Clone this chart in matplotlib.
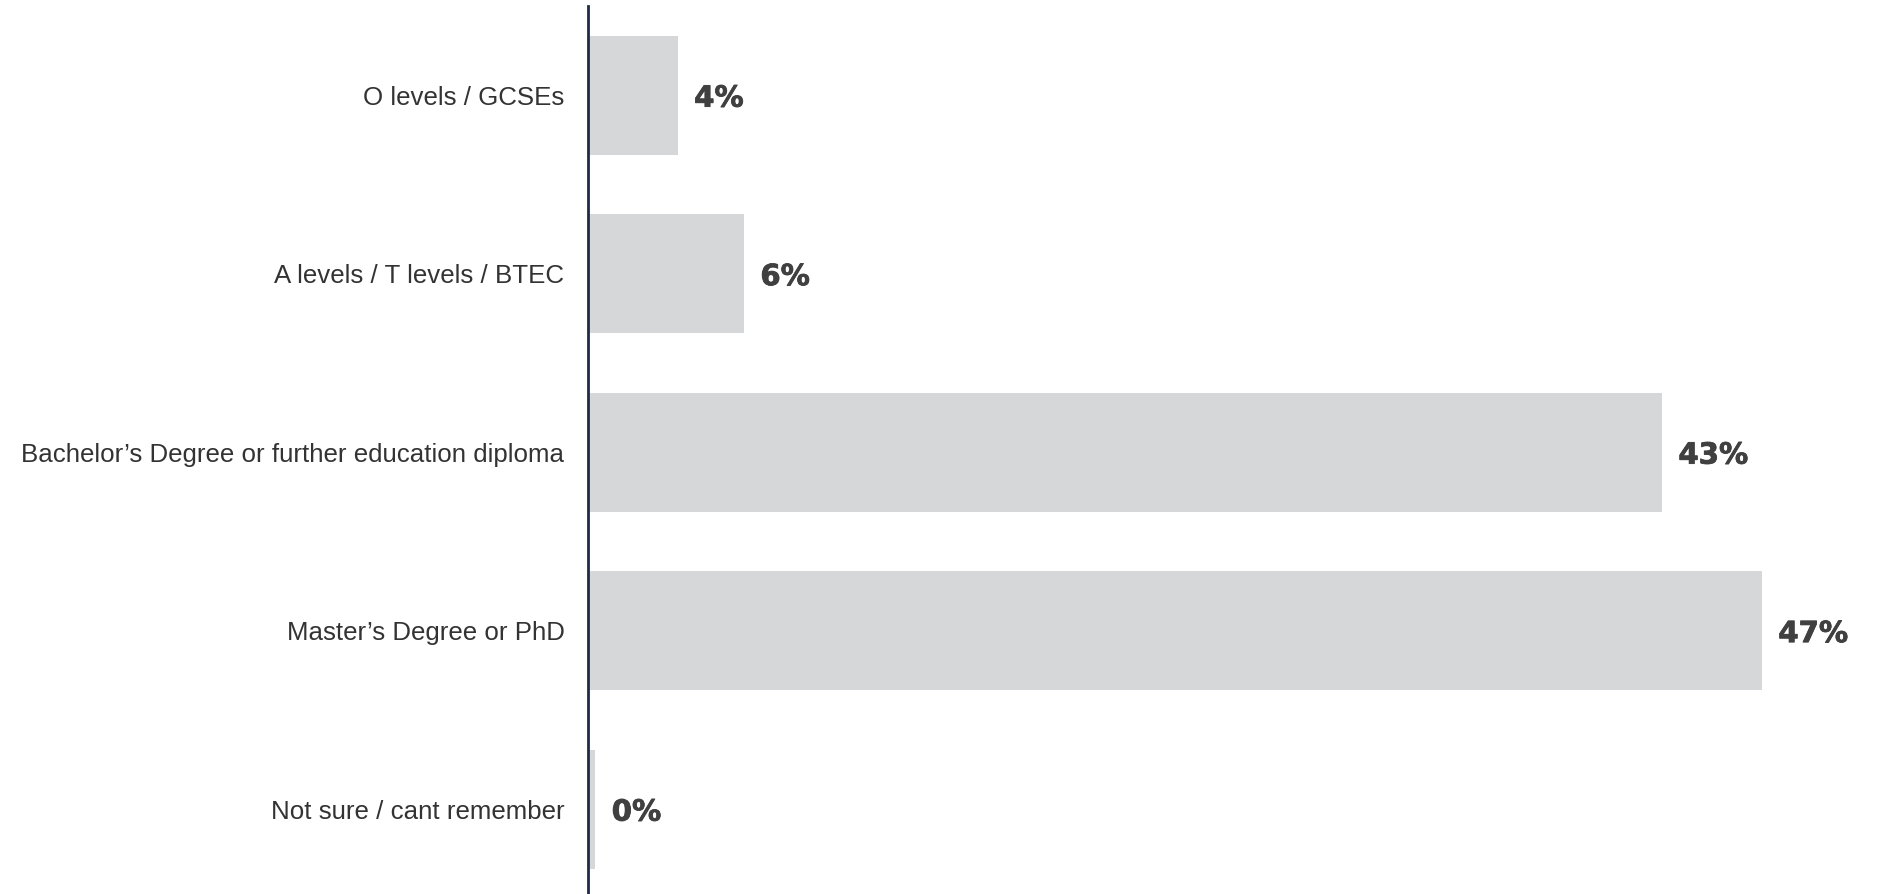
import matplotlib
matplotlib.use('Agg')
from matplotlib import pyplot as plt
from matplotlib import patheffects as pe

categories = ['O levels / GCSEs', 'A levels / T levels / BTEC',
              'Bachelor\u2019s Degree or further education diploma',
              'Master\u2019s Degree or PhD', 'Not sure / cant remember']
shares = [3.6, 6.25, 43.0, 47.0, 0.3]

fig = plt.figure(figsize=(18.78, 8.94), dpi=100)
ax = fig.add_axes([588 / 1878, 0, 1 - 588 / 1878, 888 / 894])

pos = list(range(len(categories)))
ax.barh(pos, shares, height=0.667, color='#d6d7d9')

# percentage labels just past the end of each bar
for y, v in zip(pos, shares):
    ax.text(v + 0.65, y + 0.02, f'{round(v)}%', va='center', ha='left',
            fontsize=21, fontweight='bold', color='#404040',
            family='DejaVu Sans',
            path_effects=[pe.withStroke(linewidth=0.6, foreground='#404040')])

ax.set_xlim(0, 51.64)
ax.set_ylim(4.476, -0.499)
ax.set_yticks(pos)
ax.set_yticklabels(categories, fontsize=18.6, color='#333333',
                   family='Liberation Sans')
ax.tick_params(axis='y', length=0, pad=17)
ax.set_xticks([])

for s in ['top', 'right', 'bottom']:
    ax.spines[s].set_visible(False)
ax.spines['left'].set_color('#1f2a44')
ax.spines['left'].set_linewidth(2)

fig.savefig('out.png', dpi=100)
